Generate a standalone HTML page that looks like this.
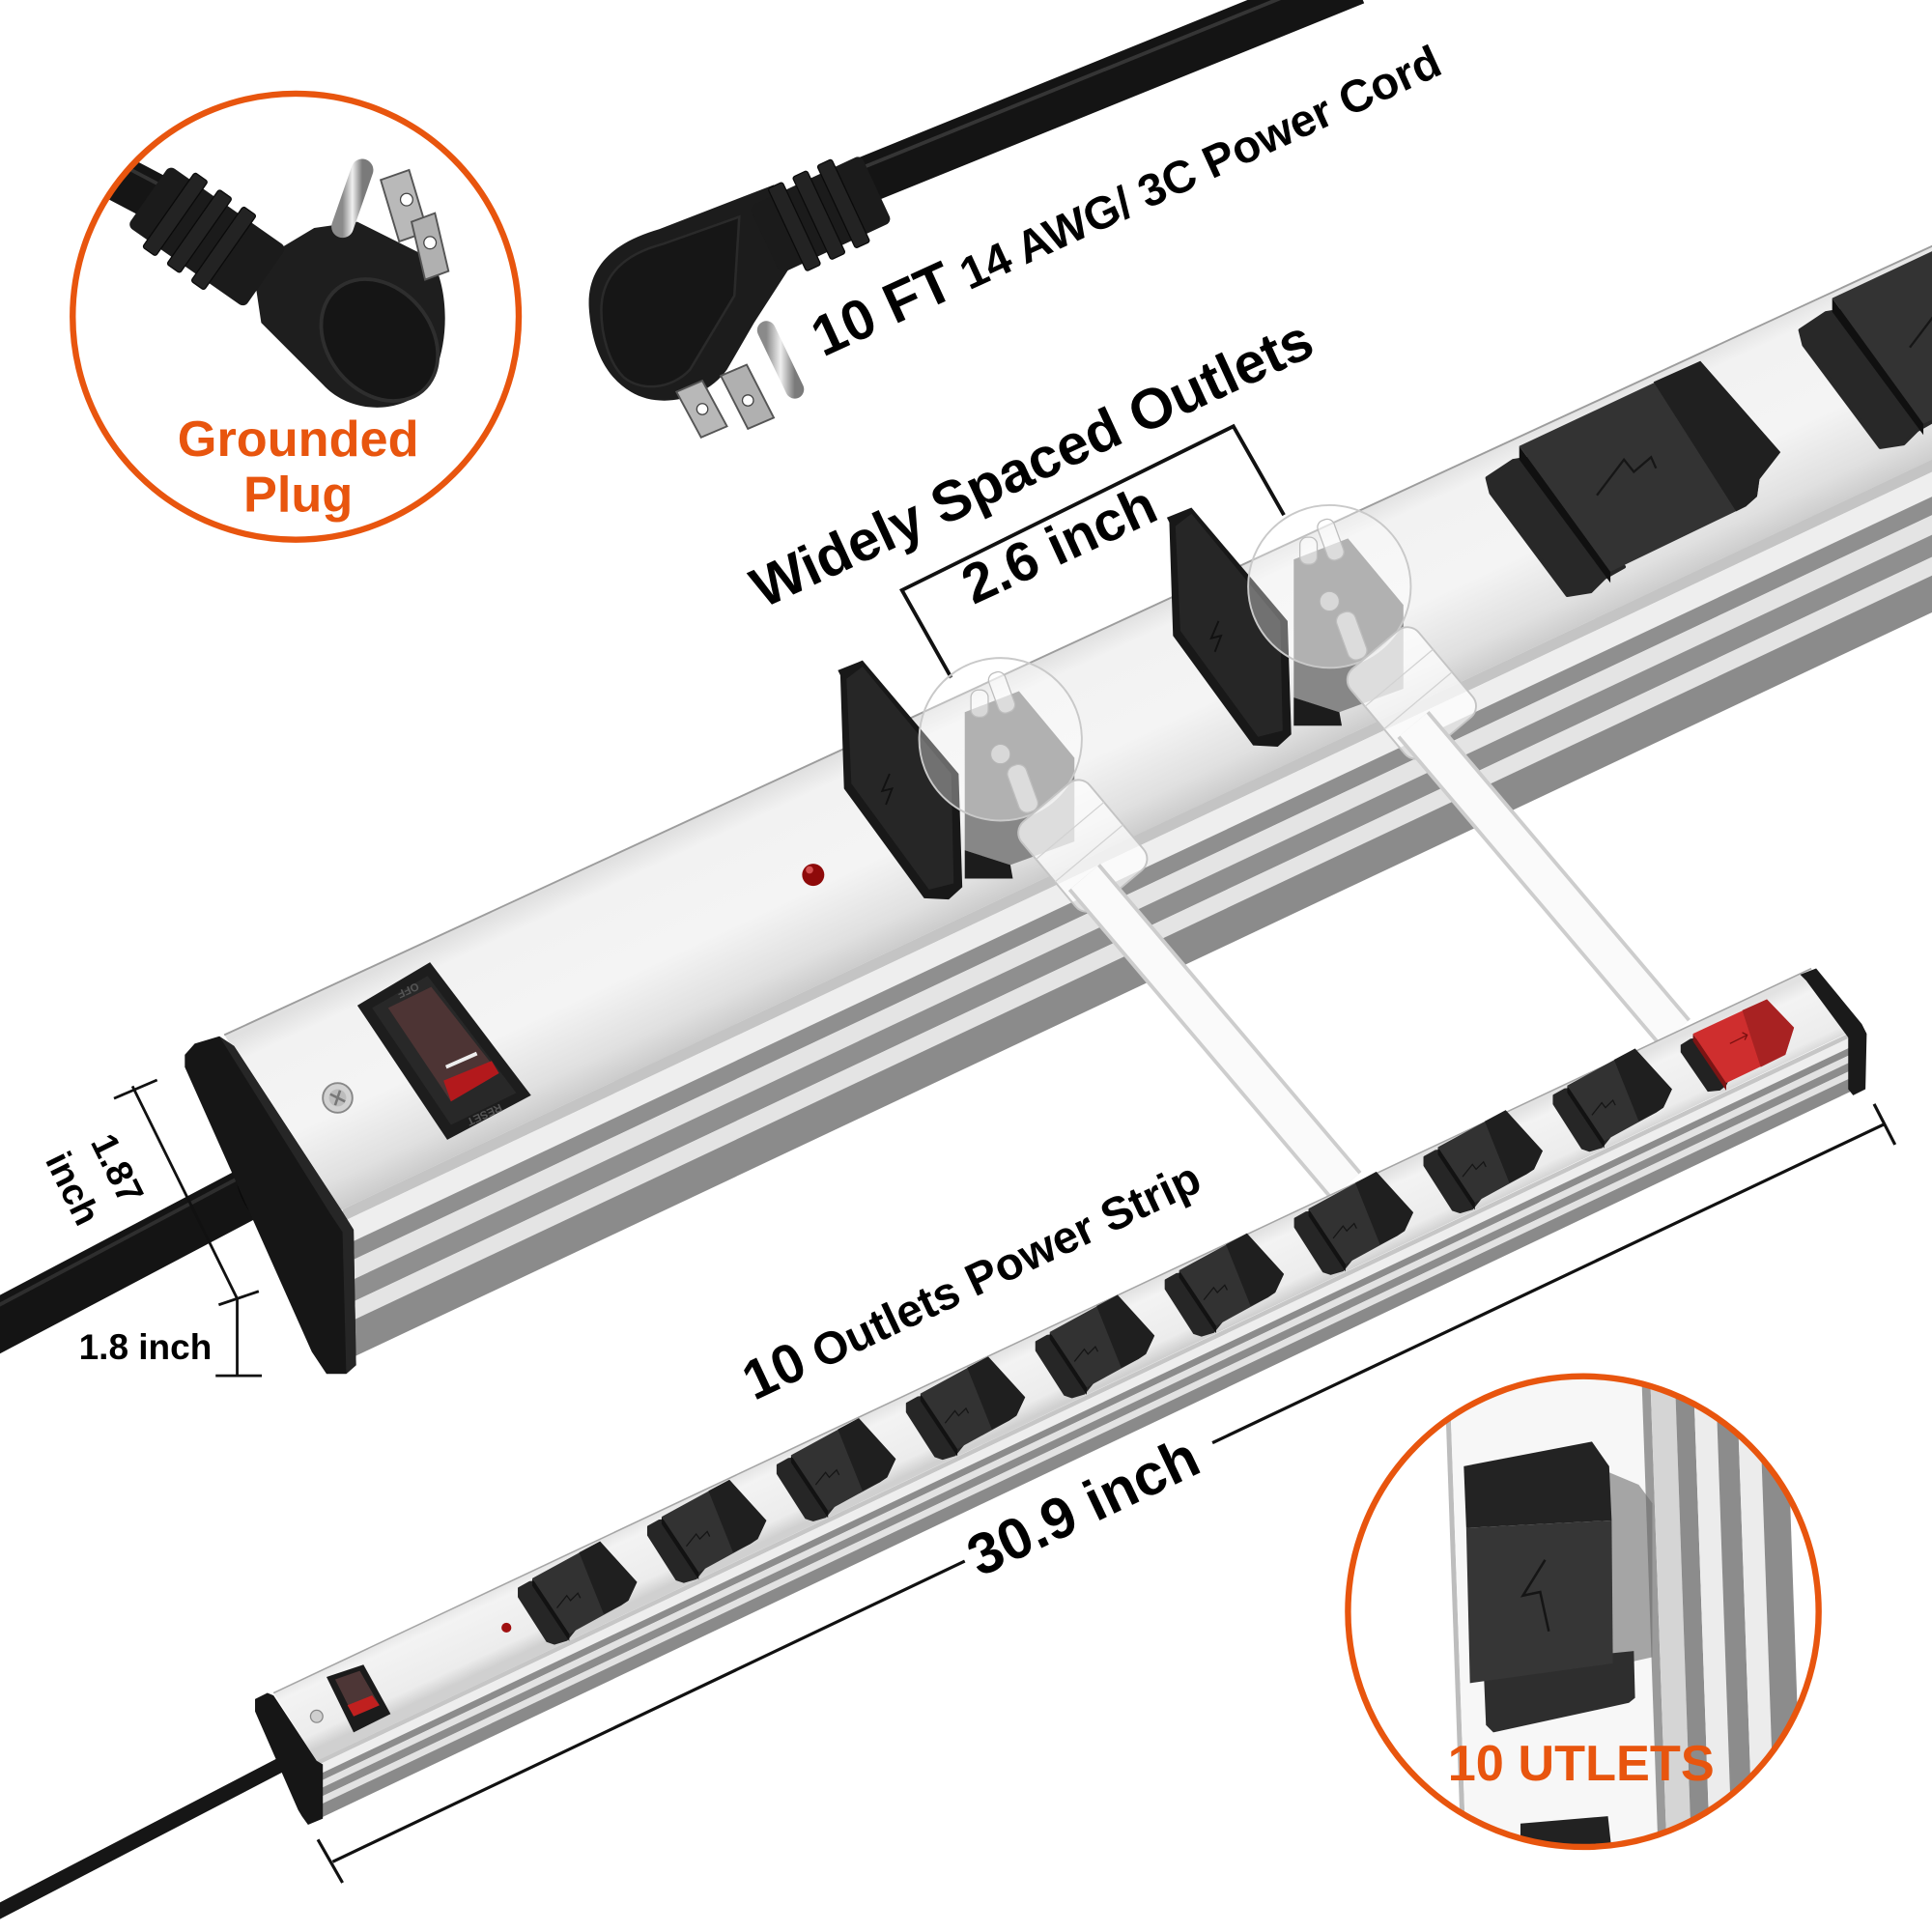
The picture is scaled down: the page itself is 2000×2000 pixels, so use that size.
<!DOCTYPE html>
<html><head><meta charset="utf-8">
<style>
html,body{margin:0;padding:0;background:#fff;overflow:hidden;}
svg{display:block;}
text{font-family:"Liberation Sans",Arial,sans-serif;font-weight:700;}
</style></head><body>
<svg width="2000" height="2000" viewBox="0 0 1568 1568" xmlns="http://www.w3.org/2000/svg">
<defs>
 <clipPath id="c1"><circle cx="240" cy="257" r="181"/></clipPath>
 <clipPath id="c2"><circle cx="1285" cy="1308" r="191"/></clipPath>
 <linearGradient id="topB" gradientUnits="userSpaceOnUse" x1="900" y1="508" x2="970" y2="657">
  <stop offset="0" stop-color="#e0e0e0"/><stop offset="0.12" stop-color="#f2f2f2"/>
  <stop offset="0.55" stop-color="#f4f4f4"/><stop offset="0.85" stop-color="#e0e0e0"/><stop offset="1" stop-color="#cbcbcb"/>
 </linearGradient>
 <linearGradient id="topS" gradientUnits="userSpaceOnUse" x1="800" y1="1102" x2="825" y2="1156">
  <stop offset="0" stop-color="#e2e2e2"/><stop offset="0.2" stop-color="#f3f3f3"/>
  <stop offset="0.8" stop-color="#ececec"/><stop offset="1" stop-color="#d0d0d0"/>
 </linearGradient>
 <linearGradient id="pin" x1="0" y1="0" x2="1" y2="0">
  <stop offset="0" stop-color="#8a8a8a"/><stop offset="0.5" stop-color="#f0f0f0"/><stop offset="1" stop-color="#7a7a7a"/>
 </linearGradient>
 <g id="oc">
  <polygon points="-11,8 -2,3 10,2 36,40 32,45 28,50 18,53 12,51 -11,15" fill="#262626" stroke="#262626" stroke-width="1.5" stroke-linejoin="round"/>
  <polygon points="0,0 30,45 30,51 0,6" fill="#121212"/>
  <polygon points="0,0 55,-30 85,3 78,18 72,22 30,45" fill="#323232"/>
  <polygon points="38,-21 55,-30 85,3 78,18 72,22 58,29" fill="#1f1f1f"/>
  <polyline points="20,24 28,14 31,18 37,12 39,16" fill="none" stroke="#151515" stroke-width="1"/>
 </g>
 <g id="bc">
  <polygon points="-26,26 -5,12 20,8 85,98 69,107 58,118 39,121 -23,38" fill="#282828" stroke="#282828" stroke-width="3" stroke-linejoin="round"/>
  <polygon points="0,0 74,102 74,111 0,11" fill="#101010"/>
  <polygon points="0,0 147,-69 212,5 195,27 193,41 184,49 74,102" fill="#333"/>
  <polygon points="109,-52 147,-69 212,5 195,27 193,41 184,49 176,53" fill="#202020"/>
  <polyline points="63,40 85,11 93,21 107,9 111,18" fill="none" stroke="#161616" stroke-width="1.8"/>
 </g>
 <g id="flap">
  <polygon points="680,544 700,536 778,628 781,720 770,730 750,729 685,640 682,548" fill="#181818"/>
  <polygon points="687,551 700,541 772,628 774,717 754,722 691,636" fill="#262626"/>
  <polyline points="722,628 716,642 724,640 719,653" fill="none" stroke="#111" stroke-width="1.5"/>
 </g>
 <g id="plug">
  <polygon points="783,578 827,561 872,615 872,683 820,702 783,690" fill="#878787"/>
  <polygon points="783,690 820,702 822,713 783,713" fill="#1c1c1c"/>
  <circle cx="812" cy="600" r="66" fill="#fff" fill-opacity="0.35" stroke="#c9c9c9" stroke-width="1.5"/>
  <rect x="806" y="545" width="14" height="34" rx="6" fill="#fff" fill-opacity="0.55" stroke="#bdbdbd" transform="rotate(-20 813 562)"/>
  <circle cx="812" cy="612" r="8" fill="#fff" fill-opacity="0.5" stroke="#b5b5b5"/>
  <rect x="822" y="620" width="16" height="40" rx="7" fill="#fff" fill-opacity="0.55" stroke="#bdbdbd" transform="rotate(-20 830 640)"/>
  <rect x="788" y="560" width="14" height="22" rx="6" fill="#fff" fill-opacity="0.5" stroke="#bdbdbd"/>
  <g transform="translate(880,688) rotate(-40)">
   <rect x="-36" y="-48" width="72" height="92" rx="12" fill="#fff" fill-opacity="0.72" stroke="#c4c4c4" stroke-width="1.5"/>
   <line x1="-36" y1="-18" x2="36" y2="-18" stroke="#d2d2d2"/>
   <line x1="-36" y1="6" x2="36" y2="6" stroke="#d2d2d2"/>
  </g>
  <line x1="880" y1="712" x2="1092" y2="962" stroke="#cdcdcd" stroke-width="34"/>
  <line x1="880" y1="712" x2="1092" y2="962" stroke="#fdfdfd" stroke-opacity="0.93" stroke-width="28"/>
 </g>
</defs>

<rect width="1568" height="1568" fill="#fff"/>

<!-- LEFT CIRCLE -->
<circle cx="240" cy="257" r="183" fill="#fff"/>
<g clip-path="url(#c1)">
 <line x1="40" y1="115" x2="160" y2="178" stroke="#151515" stroke-width="38"/>
 <line x1="40" y1="103" x2="160" y2="166" stroke="#333" stroke-width="3"/>
 <path d="M205,215 L255,185 L290,180 L350,210 C368,240 364,300 340,320 C315,338 280,332 262,312 L212,262 Z" fill="#1e1e1e"/>
 <ellipse cx="308" cy="276" rx="42" ry="54" transform="rotate(-40 308 276)" fill="#151515" stroke="#2e2e2e" stroke-width="3"/>
 <g transform="translate(168,192) rotate(35)">
  <rect x="-58" y="-30" width="116" height="60" rx="5" fill="#1b1b1b"/>
  <rect x="-38" y="-37" width="13" height="74" rx="2" fill="#232323" stroke="#0a0a0a"/>
  <rect x="-14" y="-37" width="13" height="74" rx="2" fill="#232323" stroke="#0a0a0a"/>
  <rect x="10" y="-37" width="13" height="74" rx="2" fill="#232323" stroke="#0a0a0a"/>
 </g>
 <line x1="278" y1="184" x2="294" y2="138" stroke="url(#pin)" stroke-width="18" stroke-linecap="round"/>
 <polygon points="309,146 332,138 347,188 324,196" fill="#b9b9b9" stroke="#555" stroke-width="1.5"/>
 <circle cx="330" cy="162" r="5" fill="#fff" stroke="#444"/>
 <polygon points="334,180 353,173 364,220 345,227" fill="#b0b0b0" stroke="#555" stroke-width="1.5"/>
 <circle cx="349" cy="197" r="5" fill="#fff" stroke="#444"/>
</g>
<circle cx="240" cy="257" r="181" fill="none" stroke="#e8550e" stroke-width="5"/>
<text x="242" y="370" font-size="41" fill="#e8550e" text-anchor="middle">Grounded</text>
<text x="242" y="415" font-size="41" fill="#e8550e" text-anchor="middle">Plug</text>

<!-- TOP PLUG -->
<line x1="688" y1="152" x2="1100" y2="-15" stroke="#141414" stroke-width="38"/>
<line x1="700" y1="136" x2="1090" y2="-22" stroke="#353535" stroke-width="3"/>
<path d="M478,250 C476,215 500,196 535,186 L628,150 L652,200 L612,262 L590,300 C572,325 535,332 512,318 C490,305 480,280 478,250 Z" fill="#1c1c1c"/>
<path d="M488,252 C488,222 508,206 538,198 L600,176 L596,240 L560,300 C545,316 520,318 506,306 C494,294 488,272 488,252 Z" fill="#161616" stroke="#2a2a2a" stroke-width="2"/>
<g transform="translate(666,174) rotate(-25)">
 <rect x="-50" y="-30" width="100" height="60" rx="5" fill="#1b1b1b"/>
 <rect x="-30" y="-37" width="13" height="74" rx="2" fill="#232323" stroke="#0a0a0a"/>
 <rect x="-8" y="-37" width="13" height="74" rx="2" fill="#232323" stroke="#0a0a0a"/>
 <rect x="14" y="-37" width="13" height="74" rx="2" fill="#232323" stroke="#0a0a0a"/>
</g>
<line x1="622" y1="268" x2="645" y2="316" stroke="url(#pin)" stroke-width="15" stroke-linecap="round"/>
<polygon points="549,318 570,309 590,346 569,355" fill="#b8b8b8" stroke="#555" stroke-width="1.5"/>
<circle cx="570" cy="332" r="4.5" fill="#fff" stroke="#444"/>
<polygon points="585,305 606,296 628,339 607,348" fill="#b0b0b0" stroke="#555" stroke-width="1.5"/>
<circle cx="607" cy="325" r="4.5" fill="#fff" stroke="#444"/>

<!-- TEXTS TOP -->
<text x="668" y="290" transform="rotate(-24.6 668 290)"><tspan font-size="46">10 FT</tspan><tspan font-size="37"> 14 AWG/ 3C Power Cord</tspan></text>
<text x="619" y="494" font-size="46" transform="rotate(-24.7 619 494)">Widely Spaced Outlets</text>
<text x="790" y="491" font-size="45" transform="rotate(-24.8 790 491)">2.6 inch</text>
<polyline points="772,550 732,479 1001,346 1042,418" fill="none" stroke="#111" stroke-width="3"/>

<!-- BIG STRIP -->
<polygon points="182,840 1600,185 1600,358 277,982" fill="url(#topB)"/>
<line x1="182" y1="840" x2="1600" y2="185" stroke="#9d9d9d" stroke-width="1.5"/>
<g transform="matrix(1,-0.4717,0,1,0,0)">
 <rect x="278" y="1112.66" width="1340" height="10" fill="#c4c4c4"/>
 <rect x="278" y="1122.66" width="1340" height="20" fill="#eeeeee"/>
 <rect x="278" y="1142.66" width="1340" height="15" fill="#8f8f8f"/>
 <rect x="278" y="1157.66" width="1340" height="16" fill="#e4e4e4"/>
 <rect x="278" y="1173.66" width="1340" height="18" fill="#8f8f8f"/>
 <rect x="278" y="1191.66" width="1340" height="15" fill="#e4e4e4"/>
 <rect x="278" y="1206.66" width="1340" height="30" fill="#8b8b8b"/>
</g>
<!-- switch -->
<polygon points="290,816 349,781 431,889 363,925" fill="#1d1d1d"/>
<polygon points="302,818 347,792 419,887 366,913" fill="#282828"/>
<polygon points="315,818 350,801 405,871 366,894" fill="#4d3434"/>
<polygon points="360,877 399,861 405,871 366,894" fill="#b3191c"/>
<line x1="362" y1="866" x2="387" y2="855" stroke="#eee" stroke-width="3"/>
<text x="330" y="801" font-size="9" fill="#555" text-anchor="middle" transform="rotate(155 330 801)">OFF</text>
<text x="392" y="902" font-size="9" fill="#555" text-anchor="middle" transform="rotate(155 392 902)">RESET</text>
<circle cx="274" cy="891" r="12" fill="#d2d2d2" stroke="#888" stroke-width="1.5"/>
<circle cx="274" cy="891" r="7" fill="#bcbcbc"/>
<path d="M268,888 L280,894 M276,885 L272,897" stroke="#777" stroke-width="2"/>
<!-- LED -->
<circle cx="660" cy="710" r="9" fill="#8e0a0a"/>
<circle cx="657" cy="706" r="3" fill="#e36060" fill-opacity="0.8"/>
<!-- closed covers -->
<use href="#bc" transform="translate(1233,362)"/>
<use href="#bc" transform="translate(1487,242)"/>
<!-- flaps & plugs -->
<use href="#flap"/>
<use href="#flap" transform="translate(267,-124)"/>
<use href="#plug"/>
<use href="#plug" transform="translate(267,-124)"/>
<!-- big cord & cap -->
<line x1="212" y1="963" x2="-25" y2="1088" stroke="#141414" stroke-width="42"/>
<line x1="205" y1="950" x2="-25" y2="1072" stroke="#2e2e2e" stroke-width="3"/>
<ellipse cx="206" cy="972" rx="9" ry="25" transform="rotate(-28 206 972)" fill="#0a0a0a"/>
<polygon points="150,856 158,847 178,841 190,849 277,982 287,998 289,1108 281,1115 265,1115 253,1097 150,866" fill="#161616"/>
<polygon points="178,841 190,849 277,982 287,998 289,1108 281,1115 278,1000 268,985" fill="#262626"/>
<!-- dimension 1.87 / 1.8 -->
<g stroke="#111" stroke-width="2.2">
 <line x1="107.5" y1="881.5" x2="192.5" y2="1054"/>
 <line x1="92.5" y1="891.5" x2="127.5" y2="876.5"/>
 <line x1="177.5" y1="1059" x2="210" y2="1048"/>
 <line x1="192.5" y1="1054" x2="192.5" y2="1116.5"/>
 <line x1="175" y1="1116.5" x2="212.5" y2="1116.5"/>
</g>
<text x="86" y="953" font-size="30" text-anchor="middle" transform="rotate(63.7 86 953)">1.87</text>
<text x="50" y="969" font-size="30" text-anchor="middle" transform="rotate(63.7 50 969)">inch</text>
<text x="64" y="1103" font-size="29">1.8 inch</text>

<!-- SMALL STRIP -->
<line x1="240" y1="1426" x2="-10" y2="1556" stroke="#161616" stroke-width="12"/>
<polygon points="222,1374 1470,786 1505,836 257,1429" fill="url(#topS)"/>
<line x1="222" y1="1374" x2="1470" y2="786" stroke="#a5a5a5" stroke-width="1.2"/>
<g transform="matrix(1,-0.4748,0,1,0,0)">
 <rect x="255" y="1551" width="1250" height="4" fill="#c6c6c6"/>
 <rect x="255" y="1555" width="1250" height="8" fill="#eeeeee"/>
 <rect x="255" y="1563" width="1250" height="6" fill="#8c8c8c"/>
 <rect x="255" y="1569" width="1250" height="6" fill="#e2e2e2"/>
 <rect x="255" y="1575" width="1250" height="7" fill="#8c8c8c"/>
 <rect x="255" y="1582" width="1250" height="6" fill="#e2e2e2"/>
 <rect x="255" y="1588" width="1250" height="11" fill="#8a8a8a"/>
</g>
<polygon points="207,1379 217,1374 222,1376 257,1429 262,1432 262,1476 250,1481 245,1474 242,1469 207,1389" fill="#161616"/>
<polygon points="1461,791 1474,786 1511,831 1515,839 1514,884 1504,889 1500,884 1500,842 1466,796" fill="#1a1a1a"/>
<!-- small switch -->
<polygon points="265,1361 295,1351 317,1391 287,1406" fill="#1b1b1b"/>
<polygon points="272,1363 292,1356 308,1384 287,1393" fill="#4d3636"/>
<polygon points="282,1384 302,1376 308,1384 287,1393" fill="#c0201f"/>
<circle cx="257" cy="1393" r="5" fill="#cfcfcf" stroke="#888"/>
<circle cx="411" cy="1321" r="4" fill="#a01010"/>
<!-- small outlets -->
<use href="#oc" transform="translate(432,1281)"/>
<use href="#oc" transform="translate(537,1231)"/>
<use href="#oc" transform="translate(642,1181)"/>
<use href="#oc" transform="translate(747,1131)"/>
<use href="#oc" transform="translate(852,1081)"/>
<use href="#oc" transform="translate(957,1031)"/>
<use href="#oc" transform="translate(1062,981)"/>
<use href="#oc" transform="translate(1167,931)"/>
<use href="#oc" transform="translate(1272,881)"/>
<g transform="translate(1374,839)">
 <polygon points="-10,9 -2,4 8,3 30,36 27,42 22,46 12,47 -10,15" fill="#222"/>
 <polygon points="0,0 27,40 27,46 0,6" fill="#7d1414"/>
 <polygon points="0,0 60,-28 82,-5 75,17 27,40" fill="#cf2e2e"/>
 <polygon points="40,-19 60,-28 82,-5 75,17 55,27" fill="#a82222"/>
 <path d="M30,8 L44,1 M40,-1 L44,1 L42,5" fill="none" stroke="#7a1010" stroke-width="1"/>
</g>

<!-- 30.9 dimension -->
<g stroke="#111" stroke-width="2.5">
 <line x1="270" y1="1511" x2="783" y2="1267"/>
 <line x1="984" y1="1171" x2="1530" y2="912"/>
 <line x1="258" y1="1493" x2="278" y2="1528"/>
 <line x1="1521" y1="896" x2="1538" y2="929"/>
</g>
<text x="886" y="1237" font-size="47" text-anchor="middle" transform="rotate(-25.4 886 1237)">30.9 inch</text>
<text x="612" y="1137" transform="rotate(-25.2 612 1137)"><tspan font-size="45">10</tspan><tspan font-size="37"> Outlets Power Strip</tspan></text>

<!-- RIGHT CIRCLE -->
<circle cx="1285" cy="1308" r="191" fill="#fff"/>
<g clip-path="url(#c2)">
 <g transform="translate(-45.7 0) skewX(2)">
  <rect x="1179" y="1100" width="4" height="420" fill="#bdbdbd"/>
  <rect x="1183" y="1100" width="156" height="420" fill="#f7f7f7"/>
  <rect x="1339" y="1100" width="7" height="420" fill="#9a9a9a"/>
  <rect x="1346" y="1100" width="20" height="420" fill="#d5d5d5"/>
  <rect x="1366" y="1100" width="15" height="420" fill="#8c8c8c"/>
  <rect x="1381" y="1100" width="18" height="420" fill="#ececec"/>
  <rect x="1399" y="1100" width="17" height="420" fill="#8c8c8c"/>
  <rect x="1416" y="1100" width="18" height="420" fill="#ececec"/>
  <rect x="1434" y="1100" width="22" height="420" fill="#8c8c8c"/>
 </g>
 <polygon points="1306,1195 1330,1205 1341,1220 1341,1345 1309,1352" fill="#6e6e6e" fill-opacity="0.6"/>
 <polygon points="1204,1352 1326,1340 1327,1378 1322,1382 1212,1406 1206,1400" fill="#2e2e2e"/>
 <polygon points="1188,1190 1292,1170 1306,1190 1308,1234 1190,1240" fill="#232323"/>
 <polygon points="1190,1240 1308,1234 1309,1350 1193,1366" fill="#363636"/>
 <polyline points="1254,1266 1236,1295 1250,1292 1257,1324" fill="none" stroke="#151515" stroke-width="2"/>
 <polygon points="1234,1480 1305,1474 1310,1520 1234,1520" fill="#222"/>
</g>
<circle cx="1285" cy="1308" r="191" fill="none" stroke="#e8550e" stroke-width="5"/>
<text x="1175" y="1445" font-size="41" fill="#e8550e">10 UTLETS</text>
</svg>
</body></html>
